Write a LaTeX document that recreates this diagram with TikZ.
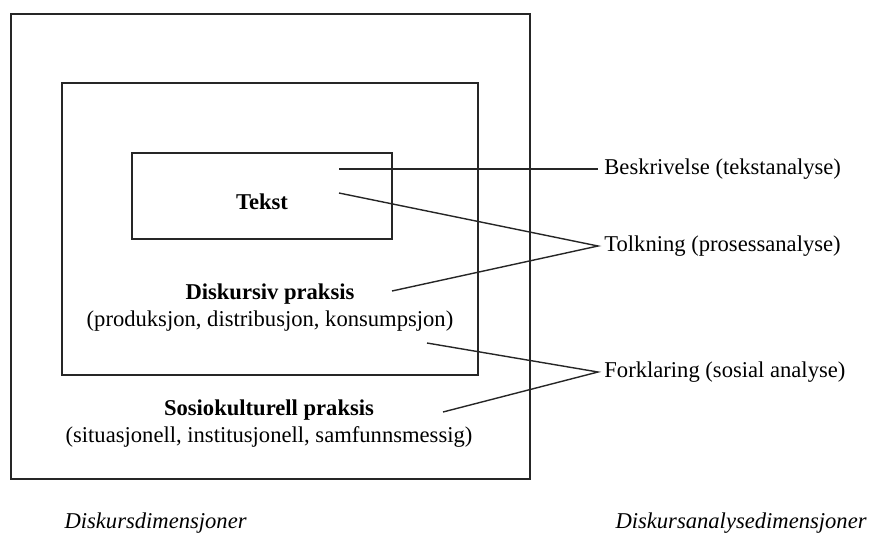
\documentclass[tikz,border=0pt]{standalone}
\usepackage{fontspec}
\setmainfont{Liberation Serif}
\begin{document}
\begin{tikzpicture}[x=0.5pt,y=-0.5pt,
  boxshape/.style={draw=black!85, line width=0.75pt, inner sep=0pt, outer sep=0pt},
  conn/.style={draw=black!85, line width=0.7pt},
  txt/.style={inner sep=0pt, font=\fontsize{11.3}{13.5}\selectfont, align=center},
  rlabel/.style={inner xsep=3pt, inner ysep=0pt, anchor=west, font=\fontsize{11.3}{13.5}\selectfont},
  dimlabel/.style={inner sep=0pt, font=\fontsize{11.3}{13.5}\selectfont\itshape}]
\useasboundingbox (0,0) rectangle (869,537);
% boxes
\node[boxshape, minimum width=259.5pt, minimum height=232.5pt] (outer) at (270.5,246.5) {};
\node[boxshape, minimum width=208pt, minimum height=146pt] (middle) at (270,229) {};
\node[boxshape, minimum width=130pt, minimum height=43pt] (inner) at (262,196) {};
% texts
\node[txt] (tekst) at (262,202) {\textbf{Tekst}};
\node[txt, anchor=north] (disk) at (270,283) {\textbf{Diskursiv praksis}\\(produksjon, distribusjon, konsumpsjon)};
\node[txt, anchor=north] (sosio) at (269,399) {\textbf{Sosiokulturell praksis}\\(situasjonell, institusjonell, samfunnsmessig)};
% right labels
\node[rlabel] (besk) at (598,169) {Beskrivelse (tekstanalyse)};
\node[rlabel] (tolk) at (598,246) {Tolkning (prosessanalyse)};
\node[rlabel] (fork) at (598,372) {Forklaring (sosial analyse)};
% connector start points
\coordinate (b0) at (339,169);
\coordinate (t1) at (339,193);
\coordinate (t2) at (392,291);
\coordinate (f1) at (427,343);
\coordinate (f2) at (443,412);
\draw[conn] (b0) -- (besk.west);
\draw[conn] (t1) -- (tolk.west) -- (t2);
\draw[conn] (f1) -- (fork.west) -- (f2);
% bottom labels
\node[dimlabel, anchor=base east] (dd) at (247,528) {Diskursdimensjoner};
\node[dimlabel, anchor=base east] (dad) at (867,528) {Diskursanalysedimensjoner};
\end{tikzpicture}
\end{document}
